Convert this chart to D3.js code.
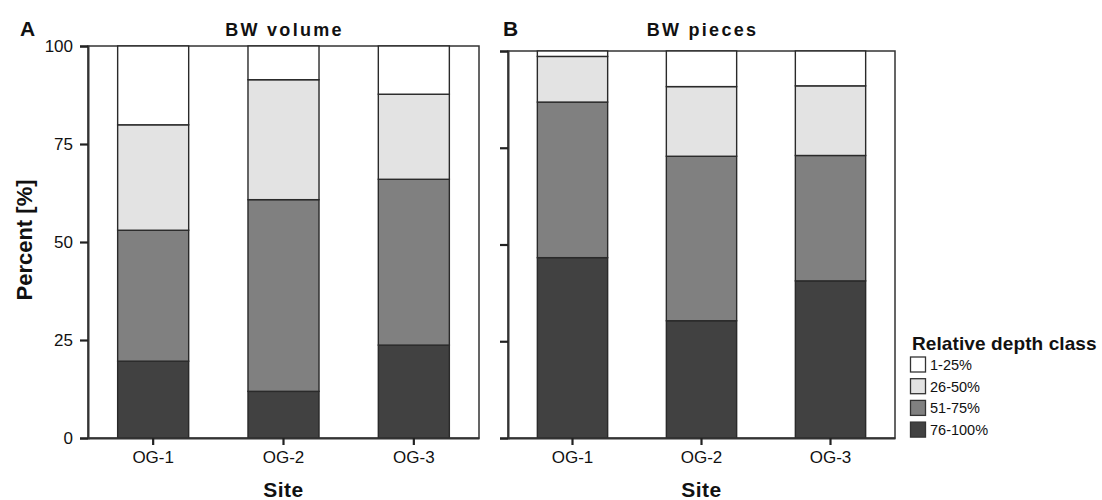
<!DOCTYPE html>
<html><head><meta charset="utf-8">
<script src="https://cdn.jsdelivr.net/npm/d3@7"></script>
<style>body{margin:0;background:#fff}svg{display:block}text{font-family:"Liberation Sans",Arial,sans-serif;fill:#111}</style>
</head><body>
<script>
const sites = ["OG-1", "OG-2", "OG-3"];
const classes = ["76-100%", "51-75%", "26-50%", "1-25%"];
const legendOrder = ["1-25%", "26-50%", "51-75%", "76-100%"];
const colors = ["#414141", "#808080", "#e3e3e3", "#ffffff"];
// values per site, stacked bottom→top: 76-100, 51-75, 26-50, 1-25
const volumeValues = [[19.6, 33.4, 26.9, 20.1], [11.9, 48.9, 30.6, 8.6], [23.7, 42.3, 21.7, 12.3]];
const piecesValues = [[46.6, 40.2, 11.8, 1.4], [30.3, 42.5, 18.0, 9.2], [40.6, 32.4, 18.0, 9.0]];
const yTicks = [0, 25, 50, 75, 100];
const panels = [
  {letter: "A", title: "BW volume", values: volumeValues, x0: 88, x1: 479, y0: 438, y1: 46, labels: true},
  {letter: "B", title: "BW pieces", values: piecesValues, x0: 508, x1: 895, y0: 438, y1: 51, labels: false}
];

const svg = d3.select("body").append("svg").attr("width", 1102).attr("height", 500);
const color = d3.scaleOrdinal().domain(classes).range(colors);
const FONT = "Liberation Sans, Arial, sans-serif";

panels.forEach(p => {
  const x = d3.scaleBand().domain(sites).range([p.x0, p.x1]).padding(0);
  const y = d3.scaleLinear().domain([0, 100]).range([p.y0, p.y1]);
  const g = svg.append("g");
  const bw = x.bandwidth() * 0.545;
  const rows = sites.map((s, i) => {const o = {site: s}; classes.forEach((c, j) => o[c] = p.values[i][j]); return o;});
  const stack = d3.stack().keys(classes)(rows);
  // frame
  g.append("rect").attr("x", p.x0).attr("y", p.y1).attr("width", p.x1 - p.x0).attr("height", p.y0 - p.y1)
    .attr("fill", "none").attr("stroke", "#333").attr("stroke-width", 1.5);
  stack.forEach(layer => {
    g.selectAll(null).data(layer).join("rect")
      .attr("x", d => x(d.data.site) + (x.bandwidth() - bw) / 2)
      .attr("y", d => y(d[1]))
      .attr("width", bw)
      .attr("height", d => y(d[0]) - y(d[1]))
      .attr("fill", color(layer.key))
      .attr("stroke", "#2a2a2a").attr("stroke-width", 1.4);
  });
  // y axis
  const ya = g.append("g").attr("transform", `translate(${p.x0},0)`)
    .call(d3.axisLeft(y).tickValues(yTicks).tickSize(8).tickPadding(7).tickFormat(p.labels ? d3.format("d") : ""));
  ya.select(".domain").attr("stroke", "#333").attr("stroke-width", 2);
  ya.selectAll(".tick line").attr("stroke", "#222").attr("stroke-width", 2.2);
  ya.selectAll(".tick text").attr("font-size", 17).attr("fill", "#111").style("font-family", FONT);
  // x axis
  const xa = g.append("g").attr("transform", `translate(0,${p.y0})`)
    .call(d3.axisBottom(x).tickSize(7).tickPadding(6).tickSizeOuter(0));
  xa.select(".domain").attr("stroke", "#333").attr("stroke-width", 2);
  xa.selectAll(".tick line").attr("stroke", "#222").attr("stroke-width", 2.2);
  xa.selectAll(".tick text").attr("font-size", 17).attr("fill", "#111").style("font-family", FONT);
  // titles
  g.append("text").attr("x", (p.x0 + p.x1) / 2 + 1).attr("y", 36).attr("text-anchor", "middle")
    .attr("font-size", 18).attr("font-weight", "bold").attr("letter-spacing", 2.3).text(p.title);
  g.append("text").attr("x", p.labels ? 20 : p.x0 - 5).attr("y", 36)
    .attr("font-size", 21).attr("font-weight", "bold").text(p.letter);
  g.append("text").attr("x", (p.x0 + p.x1) / 2).attr("y", 497).attr("text-anchor", "middle")
    .attr("font-size", 21).attr("font-weight", "bold").attr("letter-spacing", 0.5).text("Site");
});

svg.append("text").attr("transform", "translate(32,240) rotate(-90)").attr("text-anchor", "middle")
  .attr("font-size", 22).attr("font-weight", "bold").text("Percent [%]");

// legend
const lg = svg.append("g").attr("transform", "translate(910,0)");
lg.append("text").attr("x", 2).attr("y", 350).attr("font-size", 19).attr("font-weight", "bold").attr("letter-spacing", 0.1).text("Relative depth class");
legendOrder.forEach((c, i) => {
  lg.append("rect").attr("x", 0.5).attr("y", 357 + i * 21.7).attr("width", 15).attr("height", 15)
    .attr("fill", color(c)).attr("stroke", "#333").attr("stroke-width", 1.3);
  lg.append("text").attr("x", 20).attr("y", 370 + i * 21.7).attr("font-size", 14.5).text(c);
});
</script>
</body></html>
